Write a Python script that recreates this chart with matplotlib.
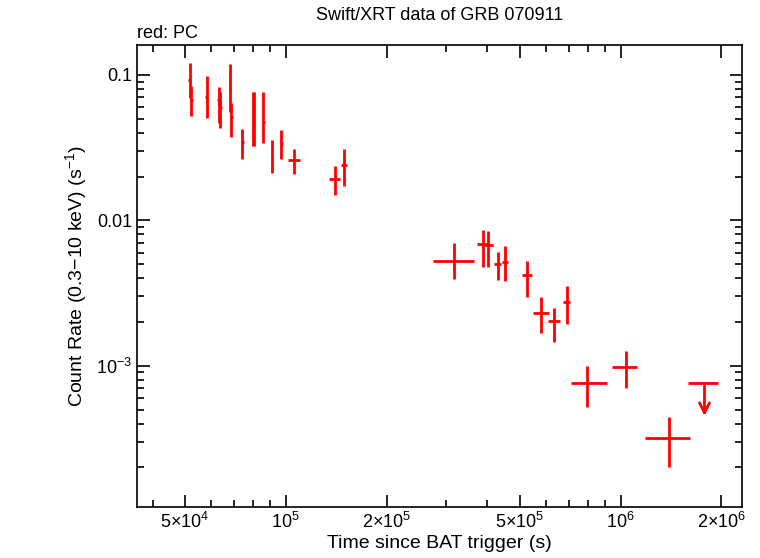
import matplotlib
matplotlib.use("Agg")
import matplotlib.pyplot as plt
from matplotlib.ticker import FixedLocator, NullFormatter, LogLocator
plt.rcParams['font.family'] = 'Liberation Sans'
plt.rcParams['mathtext.fontset'] = 'custom'
plt.rcParams['mathtext.rm'] = 'Liberation Sans'

t = [5.17e4, 5.22e4, 5.80e4, 6.30e4, 6.37e4, 6.81e4, 6.88e4, 7.41e4, 7.98e4, 8.04e4, 8.56e4, 9.1e4, 9.7e4,
     1.055e5, 1.40e5, 1.49e5, 3.19e5, 3.87e5, 4.03e5, 4.30e5, 4.51e5, 5.24e5, 5.77e5, 6.31e5, 6.90e5,
     7.96e5, 1.04e6, 1.39e6]
t_lo = [5.12e4, 5.17e4, 5.74e4, 6.24e4, 6.31e4, 6.75e4, 6.82e4, 7.34e4, 7.91e4, 7.97e4, 8.48e4, 9.02e4, 9.6e4,
        1.015e5, 1.35e5, 1.46e5, 2.75e5, 3.73e5, 3.90e5, 4.20e5, 4.43e5, 5.06e5, 5.47e5, 6.06e5, 6.73e5,
        7.10e5, 9.40e5, 1.18e6]
t_hi = [5.22e4, 5.27e4, 5.86e4, 6.36e4, 6.43e4, 6.87e4, 6.94e4, 7.48e4, 8.05e4, 8.11e4, 8.64e4, 9.18e4, 9.8e4,
        1.10e5, 1.45e5, 1.52e5, 3.66e5, 4.00e5, 4.16e5, 4.40e5, 4.60e5, 5.42e5, 6.10e5, 6.58e5, 7.08e5,
        9.08e5, 1.12e6, 1.61e6]
rate = [0.092, 0.067, 0.071, 0.067, 0.060, 0.081, 0.0515, 0.0346, 0.062, 0.045, 0.0476, 0.0287, 0.034,
        0.026, 0.0193, 0.024, 0.00527, 0.00689, 0.0068, 0.00503, 0.0052, 0.00422, 0.00231, 0.00202, 0.00276,
        7.63e-4, 9.85e-4, 3.2e-4]
rate_hi = [0.121, 0.084, 0.098, 0.083, 0.0764, 0.119, 0.0642, 0.0426, 0.0764, 0.0764, 0.0764, 0.0357, 0.0419,
           0.031, 0.0237, 0.031, 0.0070, 0.0086, 0.0085, 0.0061, 0.0067, 0.00524, 0.00298, 0.0025, 0.00355,
           1.0e-3, 1.26e-3, 4.45e-4]
rate_lo = [0.0695, 0.0523, 0.0506, 0.0468, 0.0432, 0.0557, 0.0375, 0.0265, 0.0325, 0.0325, 0.034, 0.0212, 0.0264,
           0.0209, 0.015, 0.0173, 0.00396, 0.0048, 0.0048, 0.0039, 0.0038, 0.00298, 0.00169, 0.00145, 0.00193,
           5.25e-4, 7.0e-4, 2.0e-4]
ul_t, ul_lo, ul_hi, ul_rate = 1.78e6, 1.59e6, 1.95e6, 7.6e-4

fig = plt.figure(figsize=(7.6, 5.58), dpi=100)
ax = fig.add_axes([0.180, 0.0914, 0.796, 0.8276])
xerr = [[a - b for a, b in zip(t, t_lo)], [b - a for a, b in zip(t, t_hi)]]
yerr = [[a - b for a, b in zip(rate, rate_lo)], [b - a for a, b in zip(rate, rate_hi)]]
ax.errorbar(t, rate, xerr=xerr, yerr=yerr, fmt='none', ecolor='red', elinewidth=2, capsize=0)
ax.errorbar([ul_t], [ul_rate], xerr=[[ul_t - ul_lo], [ul_hi - ul_t]], fmt='none', ecolor='red', elinewidth=2)
ax.annotate('', xy=(ul_t, ul_rate * 0.57), xytext=(ul_t, ul_rate),
            arrowprops=dict(arrowstyle='->', color='red', lw=2, mutation_scale=18))
ax.set_xscale('log'); ax.set_yscale('log')
ax.set_xlim(3.59e4, 2.3e6); ax.set_ylim(1.07e-4, 0.16)
ax.xaxis.set_major_locator(FixedLocator([5e4, 1e5, 2e5, 5e5, 1e6, 2e6]))
ax.set_xticklabels([r'5$\times$10$^4$', r'10$^5$', r'2$\times$10$^5$', r'5$\times$10$^5$', r'10$^6$', r'2$\times$10$^6$'])
ax.xaxis.set_minor_locator(LogLocator(base=10, subs=range(1, 10)))
ax.xaxis.set_minor_formatter(NullFormatter())
ax.yaxis.set_major_locator(FixedLocator([1e-3, 1e-2, 1e-1]))
ax.set_yticklabels([r'10$^{-3}$', '0.01', '0.1'])
ax.yaxis.set_minor_locator(LogLocator(base=10, subs=range(1, 10)))
ax.yaxis.set_minor_formatter(NullFormatter())
ax.tick_params(which='both', direction='in', top=True, right=True, width=1.2, labelsize=13)
ax.tick_params(which='major', length=9)
ax.tick_params(which='minor', length=5)
for s in ax.spines.values():
    s.set_linewidth(1.2)
ax.set_xlabel('Time since BAT trigger (s)', fontsize=14, labelpad=2)
ax.set_ylabel(r'Count Rate (0.3$-$10 keV) (s$^{-1}$)', fontsize=14)
ax.set_title('Swift/XRT data of GRB 070911', fontsize=13, pad=18)
ax.text(0.0, 1.008, 'red: PC', transform=ax.transAxes, fontsize=13, va='bottom')
fig.savefig('out.png', dpi=100)
